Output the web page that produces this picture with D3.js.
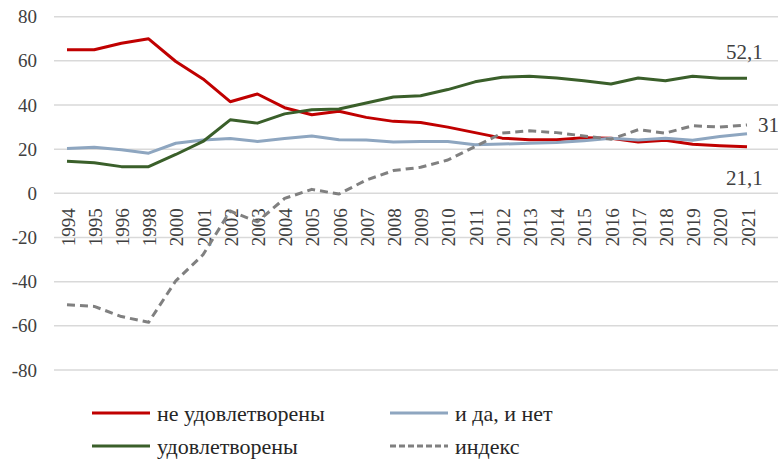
<!DOCTYPE html>
<html><head><meta charset="utf-8">
<script src="https://cdn.jsdelivr.net/npm/d3@7"></script>
<style>html,body{margin:0;padding:0;background:#fff;}svg{display:block;}</style>
</head><body>
<svg id="c" width="778" height="460"></svg>
<script>
const categories = ["1994","1995","1996","1998","2000","2001","2002","2003","2004","2005","2006","2007","2008","2009","2010","2011","2012","2013","2014","2015","2016","2017","2018","2019","2020","2021"];
const notSatisfied = [65, 65, 68, 70, 59.7, 51.8, 41.5, 45, 38.8, 35.6, 37.2, 34.4, 32.6, 32.1, 30, 27.5, 25, 24.3, 24.3, 25.2, 25, 23.3, 24, 22.2, 21.6, 21.1];
const yesAndNo = [20.3, 20.9, 19.7, 18.2, 22.7, 24.2, 24.8, 23.5, 24.8, 26, 24.3, 24.2, 23.3, 23.5, 23.5, 22, 22.3, 22.7, 23, 23.8, 25, 24.2, 25, 24, 25.7, 27];
const satisfied = [14.5, 13.9, 12.1, 12.1, 17.6, 23.5, 33.3, 31.8, 36, 37.9, 38.2, 40.9, 43.6, 44.2, 47, 50.5, 52.6, 53, 52.2, 51, 49.5, 52.2, 51, 53, 52.1, 52.1];
const indexVals = [-50.5, -51.2, -55.8, -58.4, -39.6, -27.8, -8, -12.9, -2.3, 1.8, -0.3, 6, 10.3, 11.8, 15.1, 21.2, 27.3, 28.3, 27.5, 26, 24.5, 28.8, 27.3, 30.6, 30, 31];
const yTicks = [-80, -60, -40, -20, 0, 20, 40, 60, 80];
const seriesNames = ["не удовлетворены", "и да, и нет", "удовлетворены", "индекс"];
const endLabels = ["21,1", "", "52,1", "31"];

const svg = d3.select("#c");
const font = "Liberation Serif";
const x = d3.scalePoint().domain(categories).range([53.4, 760.6]).padding(0.5);
const y = d3.scaleLinear().domain([-80, 80]).range([370, 16.7]);

// gridlines
svg.append("g").selectAll("line").data(yTicks).join("line")
  .attr("x1", 54).attr("x2", 778)
  .attr("y1", d => y(d)).attr("y2", d => y(d))
  .attr("stroke", "#d9d9d9").attr("stroke-width", 1.5);

// y tick labels
svg.append("g").selectAll("text").data(yTicks).join("text")
  .attr("x", 37).attr("y", d => y(d))
  .attr("text-anchor", "end").attr("dominant-baseline", "central")
  .attr("font-family", font).attr("font-size", 19).attr("fill", "#404040")
  .text(d => d);

// x labels (rotated)
svg.append("g").selectAll("text").data(categories).join("text")
  .attr("transform", d => `translate(${x(d) + 1},${y(0) + 15}) rotate(-90)`)
  .attr("text-anchor", "end").attr("dominant-baseline", "central")
  .attr("font-family", font).attr("font-size", 19).attr("fill", "#404040")
  .text(d => d);

const series = [
  {name: seriesNames[0], values: notSatisfied, color: "#c00000", dash: null},
  {name: seriesNames[1], values: yesAndNo, color: "#8ea6c0", dash: null},
  {name: seriesNames[2], values: satisfied, color: "#3a5f2a", dash: null},
  {name: seriesNames[3], values: indexVals, color: "#808080", dash: "8,5"}
];

const line = d3.line().x((d, i) => x(categories[i])).y(d => y(d));
svg.append("g").selectAll("path").data(series).join("path")
  .attr("d", s => line(s.values))
  .attr("fill", "none").attr("stroke", s => s.color).attr("stroke-width", 3)
  .attr("stroke-linejoin", "round")
  .attr("stroke-dasharray", s => s.dash);

// end labels
const last = categories[categories.length - 1];
const lblOffsets = [[-21, 31], [0, 0], [-21, -26], [11, 0]];
svg.append("g").selectAll("text").data(series.map((s, i) => ({s, i}))).join("text")
  .filter(d => endLabels[d.i] !== "")
  .attr("x", d => x(last) + lblOffsets[d.i][0])
  .attr("y", d => y(d.s.values[d.s.values.length - 1]) + lblOffsets[d.i][1])
  .attr("dominant-baseline", "central")
  .attr("font-family", font).attr("font-size", 21).attr("fill", "#404040")
  .text(d => endLabels[d.i]);

// legend
const legendPos = [[92, 413], [390, 413], [92, 446], [390, 446]];
const lg = svg.append("g").selectAll("g").data(series).join("g")
  .attr("transform", (s, i) => `translate(${legendPos[i][0]},${legendPos[i][1]})`);
lg.append("line").attr("x1", 0).attr("x2", 58).attr("y1", 0).attr("y2", 0)
  .attr("stroke", s => s.color).attr("stroke-width", 3)
  .attr("stroke-dasharray", s => s.dash ? "6,3" : null);
lg.append("text").attr("x", 65).attr("y", 0).attr("dominant-baseline", "central")
  .attr("font-family", font).attr("font-size", 22).attr("fill", "#262626")
  .text(s => s.name);
</script>
</body></html>
